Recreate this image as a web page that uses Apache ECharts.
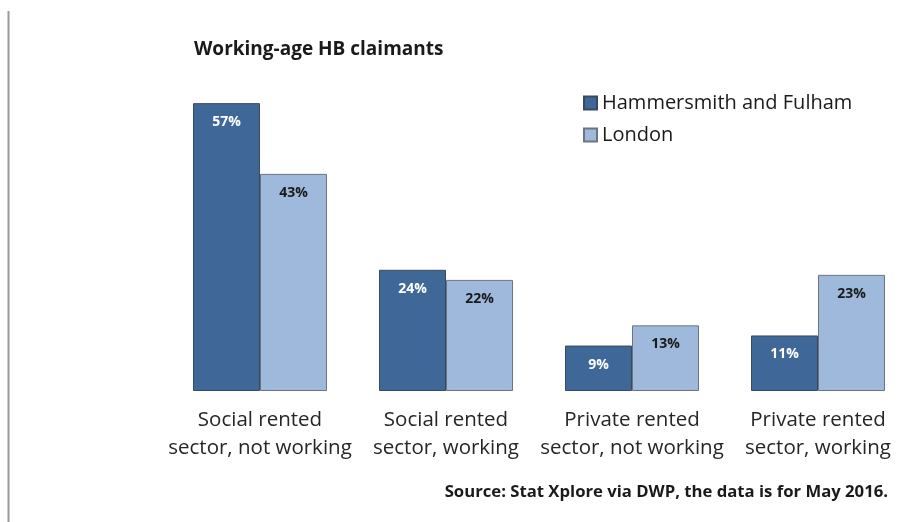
<!DOCTYPE html>
<html>
<head>
<meta charset="utf-8">
<script src="https://cdn.jsdelivr.net/npm/echarts@6/dist/echarts.min.js"></script>
<style>html,body{margin:0;padding:0;background:#fff}#c{width:904px;height:522px}</style>
</head>
<body>
<div id="c"></div>
<script>
const categories = ["Social rented\nsector, not working", "Social rented\nsector, working", "Private rented\nsector, not working", "Private rented\nsector, working"];
const seriesNames = ["Hammersmith and Fulham", "London"];
const hfValues = [57, 24, 9, 11];
const londonValues = [43, 22, 13, 23];
const titleText = "Working-age HB claimants";
const sourceText = "Source: Stat Xplore via DWP, the data is for May 2016.";

const FONT = "Open Sans";
const chart = echarts.init(document.getElementById('c'), null, {renderer: 'canvas'});
chart.setOption({
  backgroundColor: '#fff',
  animation: false,
  title: {
    text: titleText, left: 189, top: 35,
    textStyle: {fontFamily: FONT, fontWeight: 'bold', fontSize: 19, color: '#1a1a1a'}
  },
  legend: {
    orient: 'vertical', left: 583, top: 93, padding: 0, itemWidth: 13, itemHeight: 13, itemGap: 12,
    icon: 'rect',
    textStyle: {fontFamily: FONT, fontSize: 20, color: '#1a1a1a', padding: [0, 0, 0, 0]},
    data: seriesNames
  },
  graphic: [
    {type: 'line', shape: {x1: 8.5, y1: 11, x2: 8.5, y2: 522}, style: {stroke: '#9a9a9a', lineWidth: 2}},
    {type: 'text', right: 16, top: 484, style: {text: sourceText, font: 'bold 16.7px ' + FONT, fill: '#1a1a1a'}}
  ],
  grid: {left: 167, width: 744, top: 88, bottom: 131, containLabel: false, outerBoundsMode: 'none'},
  xAxis: {
    type: 'category', data: categories,
    axisLine: {show: false}, axisTick: {show: false},
    axisLabel: {fontFamily: FONT, fontSize: 20.5, color: '#262626', lineHeight: 28, margin: 15, interval: 0}
  },
  yAxis: {type: 'value', min: 0, max: 60, show: false, splitLine: {show: false}},
  series: [
    {
      name: seriesNames[0], type: 'bar', data: hfValues, barWidth: 67, barGap: '0%',
      itemStyle: {color: '#3f6899', borderColor: '#3a4a5e', borderWidth: 1},
      label: {show: true, position: 'insideTop', distance: 12, formatter: '{c}%', fontFamily: FONT, fontWeight: 'bold', fontSize: 14, color: '#ffffff'}
    },
    {
      name: seriesNames[1], type: 'bar', data: londonValues, barWidth: 67,
      itemStyle: {color: '#9eb9db', borderColor: '#6b7580', borderWidth: 1},
      label: {show: true, position: 'insideTop', distance: 12, formatter: '{c}%', fontFamily: FONT, fontWeight: 'bold', fontSize: 14, color: '#1a1a1a'}
    }
  ]
});
</script>
</body>
</html>
